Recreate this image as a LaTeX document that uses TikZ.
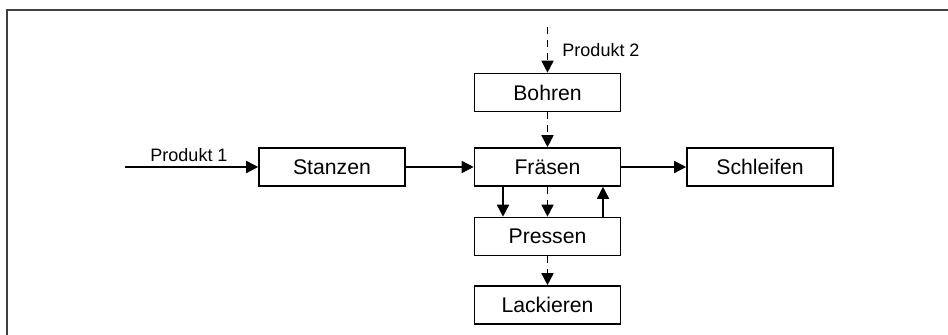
\documentclass[tikz,border=0pt]{standalone}
\usepackage{fontspec}
\setmainfont{Liberation Sans}
\usetikzlibrary{arrows.meta}
\begin{document}
\begin{tikzpicture}[x=0.5pt,y=-0.5pt,
  proc/.style={draw, line width=0.8pt, minimum width=73pt, minimum height=19pt, inner sep=0pt, font=\fontsize{10.6}{12}\selectfont},
  conn/.style={line width=0.8pt, -{Triangle[length=6pt,width=6pt]}},
  dconn/.style={conn, dash pattern=on 3.5pt off 3pt},
  lbl/.style={font=\fontsize{9}{11}\selectfont, inner sep=0pt}]
\useasboundingbox (0,0) rectangle (948,335);
\draw[line width=0.9pt, black!75] (7,335) -- (7,10) -- (948,10);
\node[proc] (stanzen) at (332,167) {Stanzen};
\node[proc] (fraesen) at (547.5,167) {Fräsen};
\node[proc] (bohren) at (547.5,92.5) {Bohren};
\node[proc] (pressen) at (547.5,236.5) {Pressen};
\node[proc] (lack) at (547.5,305) {Lackieren};
\node[proc] (schleifen) at (760,167) {Schleifen};
\coordinate (p1) at (125,167);
\coordinate (p2) at (547.5,27);
\draw[conn] (p1) -- (stanzen.west);
\node[lbl] (l1) at (189,155) {Produkt 1};
\draw[conn] (stanzen.east) -- (fraesen.west);
\draw[conn] (fraesen.east) -- (schleifen.west);
\draw[dconn] (p2) -- (bohren.north);
\node[lbl] (l2) at (601,50) {Produkt 2};
\draw[dconn] (bohren.south) -- (fraesen.north);
\draw[conn] ([xshift=-22.25pt]fraesen.south) -- ([xshift=-22.25pt]pressen.north);
\draw[dconn] (fraesen.south) -- (pressen.north);
\draw[conn] ([xshift=27.75pt]pressen.north) -- ([xshift=27.75pt]fraesen.south);
\draw[dconn] (pressen.south) -- (lack.north);
\end{tikzpicture}
\end{document}
